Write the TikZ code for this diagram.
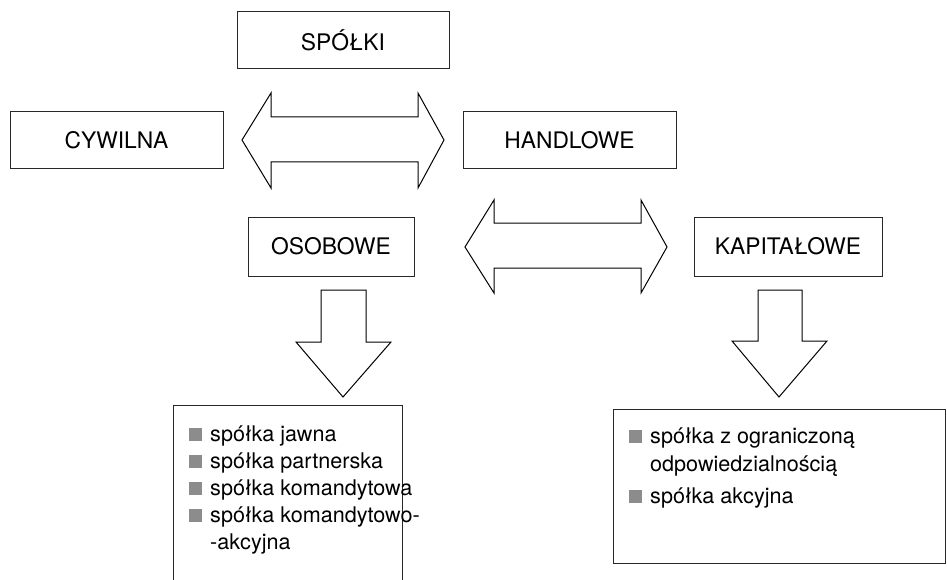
\documentclass[tikz,border=0pt]{standalone}
\usepackage{fontspec}
\setmainfont{TeX Gyre Heros}
\definecolor{bulletgray}{RGB}{140,140,140}
\definecolor{linegray}{RGB}{40,40,40}
\newcommand{\sq}{\textcolor{bulletgray}{\rule{13pt}{13pt}}\hspace{8pt}}
\tikzset{
  box/.style={draw=linegray, line width=1pt, rectangle, inner sep=0pt,
              font=\fontsize{22.8}{27}\selectfont},
  item/.style={anchor=base west, inner sep=0pt, font=\fontsize{21.6}{26}\selectfont},
  blockarrow/.style={draw=black, line width=1pt, fill=white, line join=miter}
}
\begin{document}
\begin{tikzpicture}[x=1pt,y=-1pt]
\useasboundingbox (0,0) rectangle (947,580);
% boxes
\node[box, minimum width=212pt, minimum height=57pt] (spolki) at (343,40.5) {SPÓŁKI};
\node[box, minimum width=213pt, minimum height=57pt] (cywilna) at (116.5,140.5) {CYWILNA};
\node[box, minimum width=213pt, minimum height=57pt] (handlowe) at (569.5,140.5) {HANDLOWE};
\node[box, minimum width=166pt, minimum height=59pt] (osobowe) at (331,246.5) {OSOBOWE};
\node[box, minimum width=188pt, minimum height=59pt] (kapitalowe) at (788,246.5) {KAPITAŁOWE};
% block arrows
\draw[blockarrow] (242,140) -- (271,93) -- (271,117) -- (418,117) -- (418,93) -- (444,140)
  -- (418,188) -- (418,162) -- (271,162) -- (271,188) -- cycle;
\draw[blockarrow] (465,247) -- (494,200) -- (494,223) -- (641,223) -- (641,200) -- (667,247)
  -- (641,293) -- (641,268) -- (494,268) -- (494,293) -- cycle;
\draw[blockarrow] (321,290) -- (366,290) -- (366,342) -- (391,342) -- (343,397) -- (296,342) -- (321,342) -- cycle;
\draw[blockarrow] (758,290) -- (802,290) -- (802,341) -- (827,341) -- (779,397) -- (732,341) -- (758,341) -- cycle;
% lists
\node[box, minimum width=229pt, minimum height=185pt] (osobList) at (287.5,497.5) {};
\node[item] (jawna) at (189,441) {\sq spółka jawna};
\node[item] (partner) at (189,468) {\sq spółka partnerska};
\node[item] (komand) at (189,495) {\sq spółka komandytowa};
\node[item] (komandA) at (189,522) {\sq spółka komandytowo-};
\node[item] (komandB) at (210,549) {-akcyjna};
\node[box, minimum width=332pt, minimum height=154pt] (kapList) at (779,486) {};
\node[item] (zoo) at (629,443) {\sq spółka z ograniczoną};
\node[item] (zooB) at (650,471) {odpowiedzialnością};
\node[item] (akcyjna) at (629,503) {\sq spółka akcyjna};
\end{tikzpicture}
\end{document}
